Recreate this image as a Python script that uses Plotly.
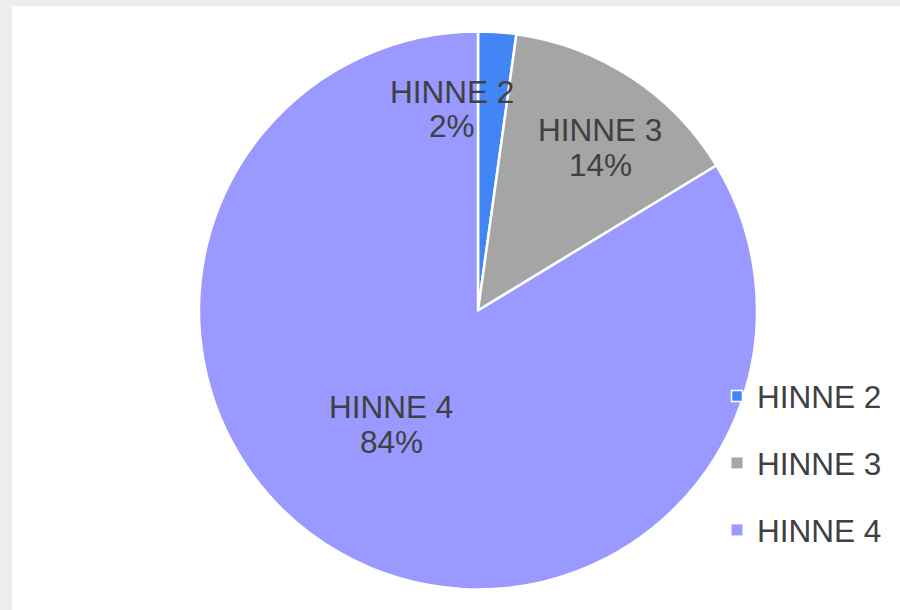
import plotly.graph_objects as go

# ---- data ----
categories = ["HINNE 2", "HINNE 3", "HINNE 4"]
values = [2.2, 14.1, 83.7]
colors = ["#4285F4", "#A5A5A5", "#9999FF"]

W, H = 900, 610
FONT = "Liberation Sans, Arial, sans-serif"
TXT = "#404040"
FS = 31.5

def px(x):
    return x / W

def py(y):
    return 1 - y / H

fig = go.Figure()

fig.add_trace(go.Pie(
    labels=categories,
    values=values,
    sort=False,
    direction="clockwise",
    rotation=0,
    marker=dict(colors=colors, line=dict(color="white", width=2.5)),
    textinfo="none",
    hoverinfo="label+percent",
    showlegend=False,
    domain=dict(x=[px(199), px(757)], y=[py(590), py(31)]),
))

# legend entries
for i, (c, col) in enumerate(zip(categories, colors)):
    fig.add_trace(go.Scatter(
        x=[None], y=[None], mode="markers", name=c,
        legendgroup=f"g{i}",
        marker=dict(symbol="square", size=11, color=col,
                    line=dict(color="white", width=1.5 if i == 0 else 0)),
    ))

# data labels
total = sum(values)
label_pos = [(452, 109), (600, 147), (391, 424)]
annotations = []
for c, v, (lx, ly) in zip(categories, values, label_pos):
    pct = f"{round(v / total * 100)}%"
    annotations.append(dict(x=px(lx), y=py(ly - 17.5), xref="paper", yref="paper",
                            text=c, showarrow=False, xanchor="center", yanchor="middle",
                            font=dict(family=FONT, size=FS, color=TXT)))
    annotations.append(dict(x=px(lx), y=py(ly + 17.5), xref="paper", yref="paper",
                            text=pct, showarrow=False, xanchor="center", yanchor="middle",
                            font=dict(family=FONT, size=FS, color=TXT)))

fig.update_layout(
    width=W, height=H,
    margin=dict(l=0, r=0, t=0, b=0),
    paper_bgcolor="#EDEDEF",
    plot_bgcolor="rgba(0,0,0,0)",
    xaxis=dict(visible=False),
    yaxis=dict(visible=False),
    shapes=[dict(type="rect", xref="paper", yref="paper",
                 x0=px(12), x1=1.01, y0=-0.01, y1=py(6),
                 fillcolor="white", line=dict(width=0), layer="below")],
    annotations=annotations,
    legend=dict(x=px(717), y=py(369), xanchor="left", yanchor="top",
                font=dict(family=FONT, size=FS, color=TXT),
                bgcolor="rgba(0,0,0,0)", tracegroupgap=23,
                itemclick=False, itemdoubleclick=False),
    showlegend=True,
)

fig.write_html("out.html",
               config={"displayModeBar": False},
               post_script="document.body.style.margin='0';document.body.style.padding='0';")
